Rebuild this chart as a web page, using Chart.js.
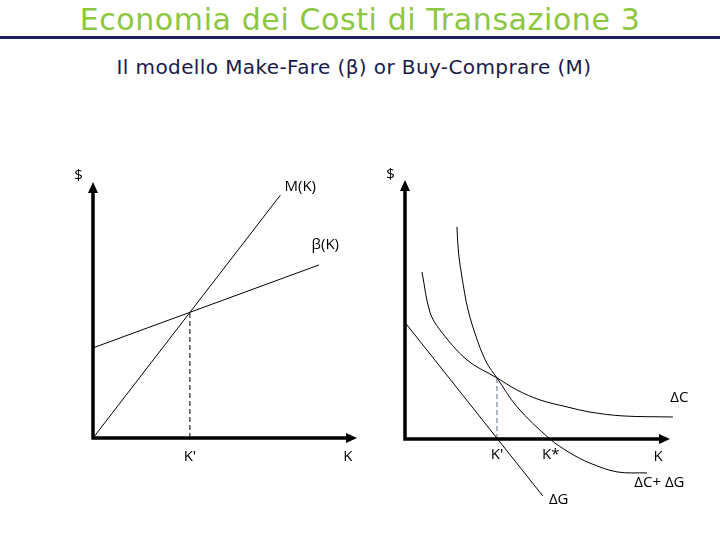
<!DOCTYPE html>
<html>
<head>
<meta charset="utf-8">
<script src="https://cdn.jsdelivr.net/npm/chart.js@4"></script>
<style>
  body { margin: 0; width: 720px; height: 540px; background: #fff; position: relative; overflow: hidden; }
  #title { position: absolute; left: 0; top: 0; width: 720px; text-align: center; color: #8dc63f;
           font: 30px "Comic Sans MS", "DejaVu Sans", sans-serif; letter-spacing: 0.6px; line-height: 40px; }
  #rule { position: absolute; left: 0; top: 36px; width: 720px; height: 3px; background: #1f1f5c; }
  #subtitle { position: absolute; left: 0; top: 53px; width: 708px; text-align: center; color: #1a1a4a;
              font: 20px "Comic Sans MS", "DejaVu Sans", sans-serif; letter-spacing: 0.4px; line-height: 28px; }
  canvas { position: absolute; }
</style>
</head>
<body>
<div id="title">Economia dei Costi di Transazione 3</div>
<div id="rule"></div>
<div id="subtitle">Il modello Make-Fare (β) or Buy-Comprare (M)</div>
<canvas id="left" width="380" height="340" style="left:0;top:140px"></canvas>
<canvas id="right" width="340" height="380" style="left:380px;top:140px"></canvas>
<script>
// left diagram: M(K) and β(K) against K
const mK = [0, 7.1];
const mVal = [0, 9.49];
const bK = [0, 8.56];
const bVal = [3.52, 6.76];
const kPrimeLeft = [3.67, 3.67];
const kPrimeLeftVal = [0, 4.91];

// right diagram: ΔC, ΔG and ΔC+ΔG against K
const gK = [0, 5.2];
const gVal = [4.5, -2.2];
const cK = [0.64, 0.94, 1.32, 2.34, 3.47, 4.23, 5.09, 6.11, 6.98, 8.23, 10.11];
const cVal = [6.45, 4.9, 4.21, 3.05, 2.36, 1.89, 1.51, 1.24, 1.04, 0.89, 0.85];
const sumK = [1.96, 2.02, 2.15, 2.38, 2.75, 3.09, 3.47, 4.23, 5.47, 6.23, 6.98, 8.0, 9.13];
const sumVal = [8.19, 7.18, 6.25, 4.98, 3.75, 2.93, 2.36, 1.24, 0, -0.54, -0.93, -1.27, -1.31];
const kPrimeRight = [3.47, 3.47];
const kPrimeRightVal = [0, 2.36];

const pts = (xs, ys) => xs.map((x, i) => ({ x: x, y: ys[i] }));

const lineSet = (xs, ys, extra) => Object.assign({
    data: pts(xs, ys),
    showLine: true,
    borderColor: '#000',
    borderWidth: 1,
    pointRadius: 0,
    fill: false,
    clip: false,
}, extra || {});

// axes with arrowheads along the chart area
const axesPlugin = {
    id: 'arrowAxes',
    afterDatasetsDraw(chart) {
        const { ctx, chartArea: a } = chart;
        ctx.save();
        ctx.strokeStyle = '#000';
        ctx.fillStyle = '#000';
        ctx.lineWidth = 3.5;
        ctx.beginPath();
        ctx.moveTo(a.left, a.top + 8);
        ctx.lineTo(a.left, a.bottom);
        ctx.lineTo(a.right - 8, a.bottom);
        ctx.stroke();
        ctx.beginPath();
        ctx.moveTo(a.left, a.top);
        ctx.lineTo(a.left - 5, a.top + 11);
        ctx.lineTo(a.left + 5, a.top + 11);
        ctx.closePath();
        ctx.fill();
        ctx.beginPath();
        ctx.moveTo(a.right, a.bottom);
        ctx.lineTo(a.right - 11, a.bottom - 5);
        ctx.lineTo(a.right - 11, a.bottom + 5);
        ctx.closePath();
        ctx.fill();
        ctx.restore();
    }
};

// text labels placed in data coordinates
const labelPlugin = {
    id: 'textLabels',
    afterDraw(chart, args, opts) {
        const { ctx, scales } = chart;
        ctx.save();
        ctx.fillStyle = '#000';
        ctx.font = '15px "Open Sans", "Noto Sans", sans-serif';
        ctx.textAlign = 'center';
        ctx.textBaseline = 'middle';
        (opts.items || []).forEach(l => {
            ctx.fillText(l.text, scales.x.getPixelForValue(l.x), scales.y.getPixelForValue(l.y));
        });
        ctx.restore();
    }
};

const baseOptions = (padding, labels) => ({
    responsive: false,
    animation: false,
    layout: { padding: padding },
    scales: {
        x: { type: 'linear', min: 0, max: 10, display: false },
        y: { type: 'linear', min: 0, max: 10, display: false }
    },
    plugins: {
        legend: { display: false },
        tooltip: { enabled: false },
        textLabels: { items: labels }
    }
});

new Chart(document.getElementById('left'), {
    type: 'scatter',
    data: {
        datasets: [
            lineSet(mK, mVal),
            lineSet(bK, bVal),
            lineSet(kPrimeLeft, kPrimeLeftVal, { borderDash: [5, 3] })
        ]
    },
    options: baseOptions({ left: 93, right: 23, top: 42, bottom: 42 }, [
        { text: '$', x: -0.55, y: 10.25 },
        { text: 'M(K)', x: 7.85, y: 9.8 },
        { text: 'β(K)', x: 8.8, y: 7.55 },
        { text: "K'", x: 3.67, y: -0.75 },
        { text: 'K', x: 9.65, y: -0.75 }
    ]),
    plugins: [axesPlugin, labelPlugin]
});

new Chart(document.getElementById('right'), {
    type: 'scatter',
    data: {
        datasets: [
            lineSet(gK, gVal),
            lineSet(cK, cVal, { tension: 0.35 }),
            lineSet(sumK, sumVal, { tension: 0.35 }),
            lineSet(kPrimeRight, kPrimeRightVal, { borderColor: '#5b6f86', borderDash: [5, 3] })
        ]
    },
    options: baseOptions({ left: 25, right: 50, top: 40, bottom: 81 }, [
        { text: '$', x: -0.55, y: 10.2 },
        { text: 'ΔC', x: 10.35, y: 1.6 },
        { text: "K'", x: 3.47, y: -0.62 },
        { text: 'K*', x: 5.5, y: -0.62 },
        { text: 'K', x: 9.55, y: -0.7 },
        { text: 'ΔC+ ΔG', x: 9.6, y: -1.68 },
        { text: 'ΔG', x: 5.8, y: -2.35 }
    ]),
    plugins: [axesPlugin, labelPlugin]
});
</script>
</body>
</html>
